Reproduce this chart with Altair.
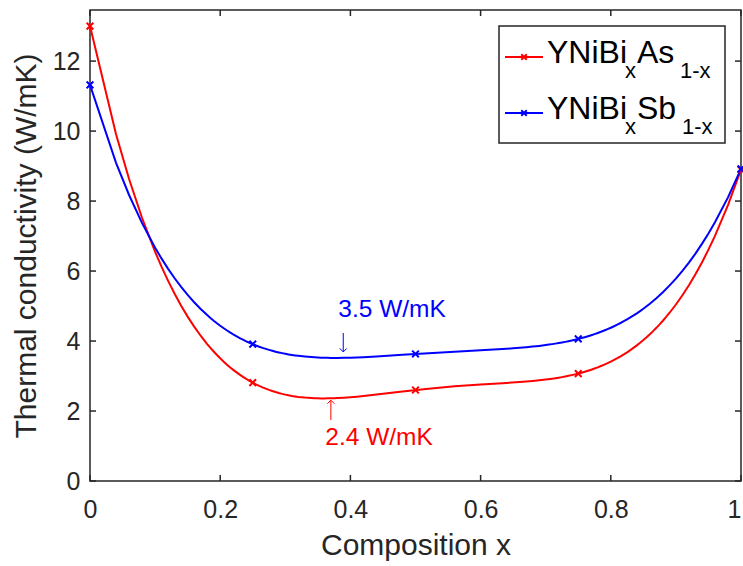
import altair as alt
import pandas as pd

# Measured thermal conductivity (W/mK) versus Bi fraction x
composition = [0.0, 0.25, 0.5, 0.75, 1.0]
k_as = [13.0, 2.81, 2.60, 3.07, 8.90]
k_sb = [11.32, 3.91, 3.63, 4.06, 8.92]
series_names = ["As", "Sb"]
series_colors = ["#ff0000", "#0000ff"]

x_ticks = [0, 0.2, 0.4, 0.6, 0.8, 1.0]
y_ticks = [0, 2, 4, 6, 8, 10, 12]

# Annotations of the curve minima (blue first, then red)
note_series = ["Sb", "As"]
note_text = ["3.5 W/mK", "2.4 W/mK"]
note_x = [0.464, 0.444]
note_y = [4.90, 1.23]
arrow_x = [0.389, 0.370]
arrow_tail = [4.23, 1.74]
arrow_head = [3.69, 2.31]
arrow_tip_shape = ["M-1,-1L0,0L1,-1", "M-1,1L0,0L1,1"]

W, H = 651, 471
FONT = "Liberation Sans"
INK = "#262626"
X_MARK = "M-1,-1L1,1M-1,1L1,-1"

df = pd.DataFrame({
    "x": composition * 2,
    "k": k_as + k_sb,
    "series": [series_names[0]] * len(k_as) + [series_names[1]] * len(k_sb),
})
notes = pd.DataFrame({
    "series": note_series, "text": note_text, "x": note_x, "y": note_y,
    "ax": arrow_x, "tail": arrow_tail, "head": arrow_head, "tip": arrow_tip_shape,
})

xscale = alt.Scale(domain=[0, 1], nice=False, zero=False)
yscale = alt.Scale(domain=[0, 13.46], nice=False)
x_axis = alt.Axis(values=x_ticks, format="~g", title="Composition x", labelFlush=False,
                  labelAlign=alt.expr("datum.value >= 1 ? 'right' : 'center'"),
                  labelPadding=16, titleY=73, titleBaseline="alphabetic")
y_axis = alt.Axis(values=y_ticks, title="Thermal conductivity (W/mK)", labelFlush=False,
                  labelPadding=10, titleX=-55, titleBaseline="alphabetic")
color = alt.Color("series:N", scale=alt.Scale(domain=series_names, range=series_colors), legend=None)


def xenc(field):
    return alt.X(field, type="quantitative", scale=xscale, axis=x_axis)


def yenc(field):
    return alt.Y(field, type="quantitative", scale=yscale, axis=y_axis)


base = alt.Chart(df)

# Smooth 4th-order polynomial through the five compositions of each series
lines = base.transform_regression(
    "x", "k", method="poly", order=4, groupby=["series"], extent=[0, 1]
).mark_line(strokeWidth=2).encode(
    x=xenc("x"), y=yenc("k"), color=color, detail="series:N",
)
points = base.mark_point(shape=X_MARK, filled=False, strokeWidth=2, size=45, opacity=1).encode(
    x=xenc("x"), y=yenc("k"), color=color,
)

# Inward tick marks on all four sides of the box
xt = alt.Chart(pd.DataFrame({"t": x_ticks}))
yt = alt.Chart(pd.DataFrame({"t": y_ticks}))
tick_style = dict(color=INK, strokeWidth=1.5)
ticks = [
    xt.mark_rule(**tick_style).encode(x=xenc("t"), y=alt.value(H), y2=alt.value(H - 6)),
    xt.mark_rule(**tick_style).encode(x=xenc("t"), y=alt.value(0), y2=alt.value(6)),
    yt.mark_rule(**tick_style).encode(y=yenc("t"), x=alt.value(0), x2=alt.value(6)),
    yt.mark_rule(**tick_style).encode(y=yenc("t"), x=alt.value(W), x2=alt.value(W - 6)),
]

nb = alt.Chart(notes)
note_labels = nb.mark_text(font=FONT, fontSize=24.5, baseline="middle", align="center").encode(
    x=xenc("x"), y=yenc("y"), text="text:N", color=color,
)
arrow_shafts = nb.mark_rule(strokeWidth=1).encode(
    x=xenc("ax"), y=yenc("tail"), y2="head:Q", color=color,
)
arrow_tips = nb.mark_point(filled=False, strokeWidth=1, size=49, opacity=1).encode(
    x=xenc("ax"), y=yenc("head"),
    shape=alt.Shape("tip:N", scale=None),
    color=color,
)

# Boxed legend in the upper-right corner, with subscripted formulas
legend_box = alt.Chart(pd.DataFrame({"a": [0]})).mark_rect(
    fill="white", stroke=INK, strokeWidth=1.5
).encode(x=alt.value(409), x2=alt.value(635), y=alt.value(16), y2=alt.value(133))

legend_parts = []
row_y = [47, 103]
for i, (name, col) in enumerate(zip(series_names, series_colors)):
    one = alt.Chart(pd.DataFrame({"a": [0]}))
    ry = row_y[i]
    legend_parts.append(one.mark_rule(color=col, strokeWidth=2).encode(
        x=alt.value(415), x2=alt.value(453), y=alt.value(ry)))
    legend_parts.append(one.mark_point(shape=X_MARK, filled=False, strokeWidth=2, size=30,
                                       color=col, opacity=1).encode(
        x=alt.value(434), y=alt.value(ry)))
    pieces = [("YNiBi", 457, ry + 6, 32), ("x", 535, ry + 21, 22),
              (name, 547, ry + 6, 32), ("1-x", 590 + 2 * i, ry + 21, 22)]
    for txt, px, py, fs in pieces:
        legend_parts.append(one.mark_text(text=txt, font=FONT, fontSize=fs, align="left",
                                          baseline="alphabetic", color="black").encode(
            x=alt.value(px), y=alt.value(py)))

chart = alt.layer(
    lines, points, *ticks, note_labels, arrow_shafts, arrow_tips, legend_box, *legend_parts
).properties(
    width=W, height=H,
    background="white",
    autosize=alt.AutoSizeParams(type="none"),
    padding={"left": 90, "top": 10, "right": 2, "bottom": 85},
).configure_view(
    stroke=INK, strokeWidth=1.5
).configure_axis(
    grid=False, domain=False, ticks=False, tickSize=0,
    labelFont=FONT, labelFontSize=25, labelColor=INK,
    titleFont=FONT, titleFontSize=30, titleFontWeight="normal", titleColor=INK,
)

chart.save("out.html", embed_options={"renderer": "svg", "actions": False})
